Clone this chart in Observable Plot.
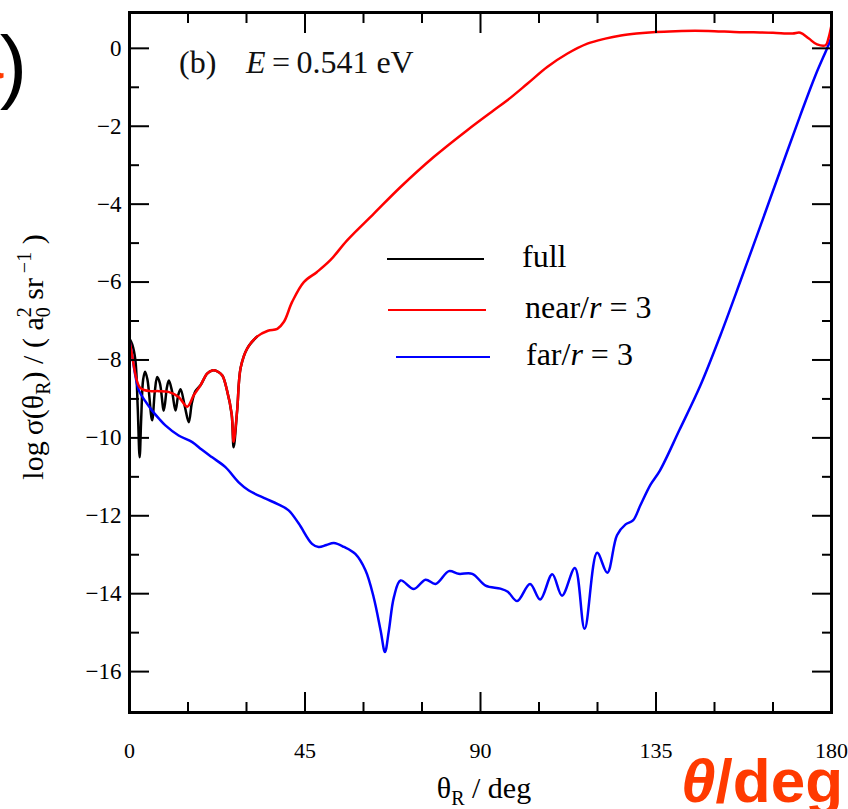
<!DOCTYPE html>
<html>
<head>
<meta charset="utf-8">
<script src="https://cdn.jsdelivr.net/npm/d3@7"></script>
<script src="https://cdn.jsdelivr.net/npm/@observablehq/plot@0.6"></script>
<style>
  html, body { margin: 0; padding: 0; background: #fff; }
  #chart { position: relative; width: 848px; height: 809px; overflow: hidden; }
</style>
</head>
<body>
<div id="chart"></div>
<script>
// Scattering angle (deg) and log10 cross section for the three calculations
const fullTheta = [0, 0.7, 1.5, 2.1, 2.6, 3.0, 3.5, 4.0, 4.6, 5.8, 6.5, 7.1, 7.8, 8.8, 9.6, 10.1, 10.9, 11.8, 12.5, 13.1, 14.2, 15.2, 16.0, 16.9, 18.2, 19.9, 21.2, 22.5, 23.8, 25.0, 26.2, 26.7, 27.6, 28.5, 30.2, 32.7];
const fullLogSigma = [-7.45, -7.6, -8.0, -9.2, -10.5, -9.5, -8.5, -8.3, -8.5, -9.55, -8.8, -8.44, -8.6, -9.3, -8.7, -8.53, -8.8, -9.3, -8.9, -8.75, -9.2, -9.6, -9.1, -8.8, -8.65, -8.35, -8.27, -8.29, -8.4, -8.78, -9.4, -10.24, -9.3, -8.2, -7.7, -7.4];

const nearTheta = [0, 0.7, 1.2, 1.8, 2.6, 3.7, 5.5, 7.5, 10.0, 12.6, 14.8, 16.5, 18.2, 19.9, 21.2, 22.5, 23.8, 25.0, 26.2, 26.7, 27.6, 28.5, 30.2, 32.7, 35.5, 37.9, 39.6, 41.7, 44.7, 48.1, 51.5, 55.8, 62.6, 69.5, 78.0, 86.6, 93.4, 96.8, 102.0, 107.1, 112.2, 117.4, 122.0, 126.0, 130, 135, 140, 145, 150, 155, 160, 165, 170, 172, 174.2, 176.3, 178.5, 179.2, 180];
const nearLogSigma = [-7.5, -7.9, -8.2, -8.5, -8.7, -8.77, -8.8, -8.8, -8.82, -8.95, -9.2, -8.9, -8.65, -8.35, -8.27, -8.29, -8.4, -8.78, -9.38, -10.1, -9.3, -8.2, -7.7, -7.4, -7.25, -7.2, -7.02, -6.51, -6.0, -5.74, -5.44, -4.93, -4.25, -3.56, -2.79, -2.1, -1.59, -1.34, -0.91, -0.48, -0.14, 0.12, 0.25, 0.33, 0.38, 0.42, 0.44, 0.45, 0.44, 0.42, 0.41, 0.40, 0.38, 0.40, 0.25, 0.10, 0.08, 0.25, 0.6];

const farTheta = [0, 0.7, 1.5, 2.4, 4.0, 5.8, 7.5, 9.2, 12.6, 16.1, 18.5, 21.2, 24.6, 28.0, 30.6, 34.9, 38.0, 40.8, 43.4, 46.8, 48.5, 50.5, 52.4, 55.0, 57.9, 60.5, 62.6, 64.4, 65.5, 66.5, 67.8, 69.5, 72.9, 75.9, 78.5, 81.9, 84.4, 87.9, 91.3, 95.1, 97.0, 99.4, 102.7, 105.3, 108.4, 110.9, 114.2, 116.7, 119.9, 122.5, 125.0, 127.2, 129.1, 131.0, 133.6, 136.0, 141.0, 146.4, 151.5, 156.7, 161.8, 166.9, 172.0, 175.9, 179.2, 180];
const farLogSigma = [-7.5, -7.9, -8.4, -8.78, -9.05, -9.3, -9.5, -9.68, -9.94, -10.11, -10.3, -10.5, -10.75, -11.14, -11.35, -11.56, -11.7, -11.86, -12.2, -12.72, -12.8, -12.75, -12.7, -12.8, -12.98, -13.4, -14.09, -14.95, -15.5, -14.95, -14.09, -13.66, -13.88, -13.64, -13.75, -13.42, -13.49, -13.49, -13.79, -13.87, -13.95, -14.19, -13.75, -14.15, -13.5, -14.05, -13.34, -14.9, -12.95, -13.46, -12.5, -12.22, -12.12, -11.73, -11.2, -10.84, -9.8, -8.65, -7.37, -5.96, -4.55, -3.13, -1.72, -0.69, 0.08, 0.3];

// Axis ticks
const xMajorTicks = [0, 45, 90, 135, 180];
const xMinorTicks = [15, 30, 60, 75, 105, 120, 150, 165];
const yMajorTicks = [0, -2, -4, -6, -8, -10, -12, -14, -16];
const yMinorTicks = [-1, -3, -5, -7, -9, -11, -13, -15];

// Legend entries
const seriesNames = ["full", "near", "far"];
const seriesColors = ["#000000", "#ff0000", "#0000ff"];

const rows = (xs, ys) => xs.map((t, i) => ({theta: t, v: ys[i]}));
const fullRows = rows(fullTheta, fullLogSigma);
const nearRows = rows(nearTheta, nearLogSigma);
const farRows = rows(farTheta, farLogSigma);

const minus = d => (d < 0 ? "\u2212" + (-d) : String(d));
const serif = "'Liberation Serif', 'Times New Roman', serif";
const sans = "'Liberation Sans', Arial, sans-serif";

const tickStyle = {fill: "none", label: null, stroke: "black", strokeWidth: 2};

const svg = Plot.plot({
  width: 848,
  height: 809,
  marginLeft: 129,
  marginRight: 17,
  marginTop: 12,
  marginBottom: 97,
  style: {fontFamily: serif, background: "white", color: "black", overflow: "hidden"},
  x: {domain: [0, 180]},
  y: {domain: [-17.05, 0.92]},
  marks: [
    Plot.line(fullRows, {x: "theta", y: "v", stroke: seriesColors[0], strokeWidth: 2.5, curve: "catmull-rom"}),
    Plot.line(farRows, {x: "theta", y: "v", stroke: seriesColors[2], strokeWidth: 2.5, curve: "catmull-rom"}),
    Plot.line(nearRows, {x: "theta", y: "v", stroke: seriesColors[1], strokeWidth: 2.5, curve: "catmull-rom"}),
    // inward-pointing ticks on all four sides
    Plot.axisX(xMajorTicks, {anchor: "bottom", tickSize: 20, dy: -20, ...tickStyle}),
    Plot.axisX(xMinorTicks, {anchor: "bottom", tickSize: 10, dy: -10, ...tickStyle}),
    Plot.axisX(xMajorTicks, {anchor: "top", tickSize: 20, dy: 20, ...tickStyle}),
    Plot.axisX(xMinorTicks, {anchor: "top", tickSize: 10, dy: 10, ...tickStyle}),
    Plot.axisY(yMajorTicks, {anchor: "left", tickSize: 20, dx: 20, ...tickStyle}),
    Plot.axisY(yMinorTicks, {anchor: "left", tickSize: 10, dx: 10, ...tickStyle}),
    Plot.axisY(yMajorTicks, {anchor: "right", tickSize: 20, dx: -20, ...tickStyle}),
    Plot.axisY(yMinorTicks, {anchor: "right", tickSize: 10, dx: -10, ...tickStyle}),
    // tick labels
    Plot.axisX(xMajorTicks, {anchor: "bottom", tickSize: 0, tickPadding: 30, label: null, fontSize: 22, tickFormat: minus}),
    Plot.axisY(yMajorTicks, {anchor: "left", tickSize: 0, tickPadding: 8, label: null, fontSize: 23, tickFormat: minus}),
    Plot.frame({stroke: "black", strokeWidth: 3})
  ]
});

const root = d3.select(svg);

// Panel title
const title = root.append("text")
  .attr("x", 179).attr("y", 73).attr("text-anchor", "start")
  .attr("font-family", serif).attr("font-size", 32).attr("fill", "#111");
title.append("tspan").text("(b)");
title.append("tspan").attr("x", 246).attr("font-style", "italic").text("E");
title.append("tspan").text("\u2009=\u20090.541 eV");

// Legend
const legendY = [259, 310, 357];
const legendLineX = [[387, 484], [388, 486], [396, 490]];
const legendTextX = [522, 525, 526];
seriesNames.forEach((name, i) => {
  root.append("line")
    .attr("x1", legendLineX[i][0]).attr("x2", legendLineX[i][1])
    .attr("y1", legendY[i]).attr("y2", legendY[i])
    .attr("stroke", seriesColors[i]).attr("stroke-width", 2);
  const t = root.append("text")
    .attr("x", legendTextX[i]).attr("y", legendY[i] + 8).attr("text-anchor", "start")
    .attr("font-family", serif).attr("font-size", 32).attr("fill", "black");
  if (name === "full") {
    t.text("full");
  } else {
    t.append("tspan").text(name + "/");
    t.append("tspan").attr("font-style", "italic").text("r");
    t.append("tspan").text(" = 3");
  }
});

// Y axis label
const yl = root.append("text")
  .attr("transform", "translate(43,357) rotate(-90)")
  .attr("text-anchor", "middle")
  .attr("font-family", serif).attr("font-size", 30).attr("fill", "black");
yl.append("tspan").text("log\u2009\u03c3(\u03b8");
yl.append("tspan").attr("font-size", 20).attr("dy", 7).text("R");
yl.append("tspan").attr("dy", -7).text(") / ( a");
yl.append("tspan").attr("font-size", 20).attr("dy", 7).text("0");
yl.append("tspan").attr("font-size", 20).attr("dx", -10).attr("dy", -19).text("2");
yl.append("tspan").attr("dy", 12).text(" sr");
yl.append("tspan").attr("font-size", 20).attr("dy", -12).text(" \u22121");
yl.append("tspan").attr("dy", 12).text(" )");

// X axis label
const xl = root.append("text")
  .attr("x", 484).attr("y", 798)
  .attr("text-anchor", "middle")
  .attr("font-family", serif).attr("font-size", 30).attr("fill", "black");
xl.append("tspan").text("\u03b8");
xl.append("tspan").attr("font-size", 20).attr("dy", 7).text("R");
xl.append("tspan").attr("dy", -7).text(" / deg");

// Side annotations: tail of the neighbouring panel tag, and the unit note
const accent = "#ff3a00";
root.append("text")
  .attr("x", 3).attr("y", 78).attr("text-anchor", "end")
  .attr("font-family", sans).attr("font-weight", "bold").attr("font-size", 60).attr("fill", accent).text("a");
root.append("text")
  .attr("x", 27).attr("y", 93).attr("text-anchor", "end")
  .attr("font-family", sans).attr("font-size", 82).attr("fill", "black").text(")");

const unit = root.append("text")
  .attr("x", 843).attr("y", 802).attr("text-anchor", "end")
  .attr("font-family", sans).attr("font-weight", "bold").attr("font-size", 62).attr("fill", accent);
unit.append("tspan").attr("font-style", "italic").text("\u03b8");
unit.append("tspan").text("/deg");

document.getElementById("chart").appendChild(svg);
</script>
</body>
</html>
